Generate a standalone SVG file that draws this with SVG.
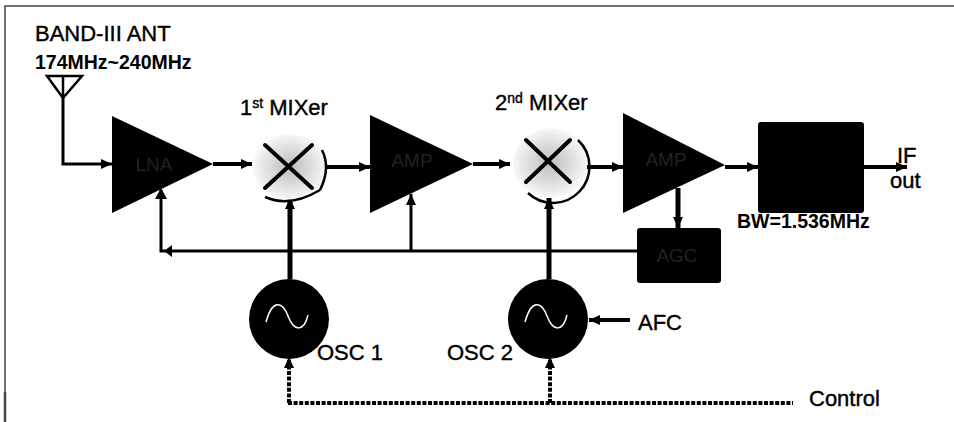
<svg xmlns="http://www.w3.org/2000/svg" width="954" height="422" viewBox="0 0 954 422">
<defs>
<marker id="ah" markerUnits="userSpaceOnUse" markerWidth="14" markerHeight="14" refX="11" refY="6" orient="auto"><path d="M0,1 L11,6 L0,11 Z" fill="#000"/></marker>
<radialGradient id="mx"><stop offset="0" stop-color="#bdbdbd"/><stop offset="0.65" stop-color="#e2e2e2"/><stop offset="1" stop-color="#f8f8f8"/></radialGradient>
</defs>
<style>
text{font-family:"Liberation Sans",Arial,sans-serif;fill:#000;font-size:22px}
#labels text{stroke:#000;stroke-width:0.4}
.w{stroke:#000;stroke-width:4;fill:none}
.t{stroke:#000;stroke-width:5;fill:none}
.n{stroke:#000;stroke-width:3;fill:none}
.a{marker-end:url(#ah)}
.d{stroke:#000;stroke-width:4;fill:none;stroke-dasharray:4 1.6}
.x{stroke:#000;stroke-width:4;stroke-linecap:round}
.arc{fill:none;stroke:#000;stroke-width:2.5}
.in{fill:#222;font-size:19px;text-anchor:middle}
#labels text.b{stroke-width:0;font-weight:bold}
</style>
<rect width="954" height="422" fill="#fff"/>
<path d="M5,422 V6 H954" fill="none" stroke="#444" stroke-width="1.5"/>
<path d="M5,392 V422" fill="none" stroke="#444" stroke-width="2.5"/>
<g id="connectors">
<path class="n a" d="M63,98 V164 H112"/>
<path class="w a" d="M213,164 H252"/>
<path class="w a" d="M325,167 H370"/>
<path class="w a" d="M473,164 H510"/>
<path class="w a" d="M587,167 H623"/>
<path class="w a" d="M725,167 H758"/>
<path class="w a" d="M864,167 H907"/>
<path class="t a" d="M678,188 V228"/>
<path class="n" d="M637,251 H161 V190"/>
<path d="M161,188 L167,199 L155,199 Z"/>
<path d="M164,251 L172,245 L172,257 Z"/>
<path class="n a" d="M411,251 V194"/>
<path class="t a" d="M290,279 V198"/>
<path class="t a" d="M549,279 V198"/>
<path class="w a" d="M630,320 H589"/>
<path class="d a" d="M289,403 V357"/>
<path class="d a" d="M550,403 V357"/>
<path class="d" d="M288,403 H793"/>
</g>
<g id="antenna"><path d="M47,76 H82 L63,98 Z M63,76 V98" fill="none" stroke="#000" stroke-width="2.5"/></g>
<g id="lna"><path d="M112,116 L213,164 L112,213 Z"/><text class="in" x="154" y="171">LNA</text></g>
<g id="mixer1"><ellipse cx="290" cy="167" rx="37" ry="33" fill="url(#mx)"/><path d="M265,145 L312,188 M312,145 L265,188" class="x"/><path d="M265,197 Q290,208 320,190 M322,150 Q331,168 320,190" class="arc"/></g>
<g id="amp"><path d="M370,115 L473,164 L370,213 Z"/><text class="in" x="412" y="167">AMP</text></g>
<g id="mixer2"><ellipse cx="550" cy="163" rx="37" ry="35" fill="url(#mx)"/><path d="M526,140 L570,182 M570,140 L526,182" class="x"/><path d="M578,140 A36,36 0 0 1 528,193" class="arc"/></g>
<g id="if-amp"><path d="M623,113 L725,165 L623,213 Z"/><text class="in" x="666" y="166">AMP</text></g>
<g id="filter"><rect x="758" y="122" width="106" height="91" rx="3"/></g>
<g id="agc"><rect x="637" y="228" width="84" height="55" rx="3"/><text class="in" x="677" y="262">AGC</text></g>
<g id="osc1"><circle cx="289" cy="319" r="40"/><path d="M266,322 C272,300 282,300 288,316 C294,332 304,332 308,315" fill="none" stroke="#fff" stroke-width="1.5"/></g>
<g id="osc2"><circle cx="548" cy="319" r="40"/><path d="M525,322 C531,300 541,300 547,316 C553,332 563,332 567,315" fill="none" stroke="#fff" stroke-width="1.5"/></g>
<g id="labels">
<text x="35" y="41">BAND-III ANT</text>
<text x="35" y="69" class="b" style="font-size:19.5px">174MHz~240MHz</text>
<text x="240" y="115">1<tspan dy="-7" style="font-size:14px">st</tspan><tspan dy="7"> MIXer</tspan></text>
<text x="495" y="110">2<tspan dy="-7" style="font-size:14px">nd</tspan><tspan dy="7"> MIXer</tspan></text>
<text x="897" y="163">IF</text>
<text x="890" y="188">out</text>
<text x="737" y="228" class="b" style="font-size:19.5px">BW=1.536MHz</text>
<text x="317" y="360">OSC 1</text>
<text x="447" y="360">OSC 2</text>
<text x="638" y="330">AFC</text>
<text x="809" y="406">Control</text>
</g>
</svg>
